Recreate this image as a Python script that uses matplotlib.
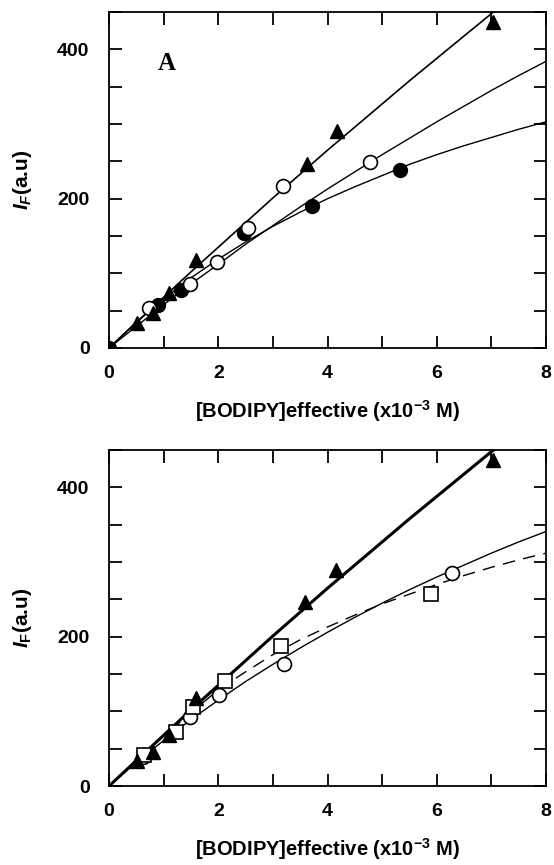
import matplotlib.pyplot as plt
import numpy as np

plt.rcParams['font.family'] = ['Liberation Sans', 'DejaVu Sans']
plt.rcParams['font.weight'] = 'bold'
plt.rcParams['mathtext.fontset'] = 'custom'
plt.rcParams['mathtext.rm'] = 'Liberation Sans:bold'
plt.rcParams['mathtext.it'] = 'Liberation Sans:italic:bold'
plt.rcParams['mathtext.bf'] = 'Liberation Sans:bold'
plt.rcParams['mathtext.default'] = 'rm'

# ---- panel A data ----
a_tri_x = [0.0, 0.51, 0.80, 1.09, 1.59, 3.63, 4.18, 7.02]
a_tri_y = [0, 33, 47, 74, 118, 247, 290, 437]
a_open_x = [0.74, 1.49, 1.97, 2.55, 3.19, 4.78]
a_open_y = [54, 86, 115, 161, 217, 249]
a_fill_x = [0.0, 0.90, 1.32, 2.47, 3.71, 5.32]
a_fill_y = [0, 58, 78, 154, 190, 238]

# fitted curves
fit_x = [0, 0.5, 1, 1.5, 2, 2.5, 3, 3.5, 4, 4.5, 5, 5.5, 6, 6.5, 7, 7.5, 8]
tri_fit_x = [0, 0.5, 1, 1.5, 2, 2.5, 3, 3.5, 4, 4.5, 5, 5.5, 6, 6.5, 7, 7.04]
tri_fit_y = [0, 34, 68, 102, 135, 168, 201, 233, 265, 296, 327, 358, 388, 418, 448, 450]
a_open_fit = [0, 29, 58, 86, 112, 139, 164, 189, 213, 236, 259, 281, 303, 324, 345, 365, 384]
a_fill_fit = [0, 35, 66, 94, 119, 142, 163, 182, 200, 216, 231, 246, 259, 271, 282, 293, 303]

# ---- panel B data ----
b_tri_x = [0.51, 0.80, 1.09, 1.59, 3.58, 4.15, 7.02]
b_tri_y = [33, 46, 68, 118, 247, 290, 437]
b_sq_x = [0.64, 1.22, 1.54, 2.13, 3.14, 5.89]
b_sq_y = [42, 72, 106, 141, 187, 257]
b_open_x = [0.62, 1.48, 2.01, 3.21, 6.27]
b_open_y = [39, 93, 122, 164, 285]
b_open_fit = [0, 32, 61, 89, 115, 140, 163, 185, 206, 226, 245, 263, 280, 296, 312, 327, 341]
b_sq_fit = [0, 35, 67, 98, 129, 153, 176, 196, 213, 229, 244, 257, 270, 282, 293, 303, 312]


def style_axes(ax, ylabel):
    ax.set_xlim(0, 8)
    ax.set_ylim(0, 450)
    ax.set_xticks([0, 2, 4, 6, 8])
    ax.set_xticks(np.arange(0, 9, 1), minor=True)
    ax.set_yticks([0, 200, 400])
    ax.set_yticks(np.arange(0, 451, 50), minor=True)
    ax.tick_params(which='both', direction='in', top=True, right=True,
                   length=9, width=1.3, labelsize=14)
    ax.tick_params(axis='x', pad=12)
    ax.tick_params(axis='y', pad=14)
    for s in ax.spines.values():
        s.set_linewidth(1.3)
    ax.set_xlabel(r'[BODIPY]effective (x10$^{-3}$ M)', fontsize=14.5,
                  fontweight='bold', labelpad=12)
    ax.set_ylabel(ylabel, fontsize=15, fontweight='bold', labelpad=17)


fig = plt.figure(figsize=(5.54, 8.65), dpi=100)
ax1 = fig.add_axes([0.1968, 0.5977, 0.789, 0.3884])
ax2 = fig.add_axes([0.1968, 0.0913, 0.789, 0.3884])

ms = 10
ax1.plot(tri_fit_x, tri_fit_y, color='k', lw=1.2, zorder=2)
ax1.plot(fit_x, a_open_fit, color='k', lw=1.0, zorder=2)
ax1.plot(fit_x, a_fill_fit, color='k', lw=1.0, zorder=2)
ax1.plot(a_fill_x, a_fill_y, 'o', ms=ms, mfc='k', mec='k', zorder=3)
ax1.plot(a_open_x, a_open_y, 'o', ms=ms, mfc='white', mec='k', mew=1.2, zorder=3)
ax1.plot(a_tri_x, a_tri_y, '^', ms=10.5, mfc='k', mec='k', zorder=4)
ax1.text(1.06, 381, 'A', fontsize=18, fontweight='bold',
         family='Liberation Serif', ha='center', va='center')
style_axes(ax1, r'$\mathit{I}_{\mathit{F}}$(a.u)')

ax2.plot(tri_fit_x, tri_fit_y, color='k', lw=2.2, zorder=2)
ax2.plot(fit_x, b_open_fit, color='k', lw=1.0, zorder=2)
ax2.plot(fit_x, b_sq_fit, color='k', lw=1.0, ls=(0, (9, 6)), zorder=2)
ax2.plot(b_open_x, b_open_y, 'o', ms=ms, mfc='white', mec='k', mew=1.2, zorder=3)
ax2.plot(b_sq_x, b_sq_y, 's', ms=9.5, mfc='white', mec='k', mew=1.2, zorder=3)
ax2.plot(b_tri_x, b_tri_y, '^', ms=10.5, mfc='k', mec='k', zorder=4)
style_axes(ax2, r'$\mathit{I}_{\mathrm{F}}$(a.u)')

fig.savefig('out.png', dpi=100)
